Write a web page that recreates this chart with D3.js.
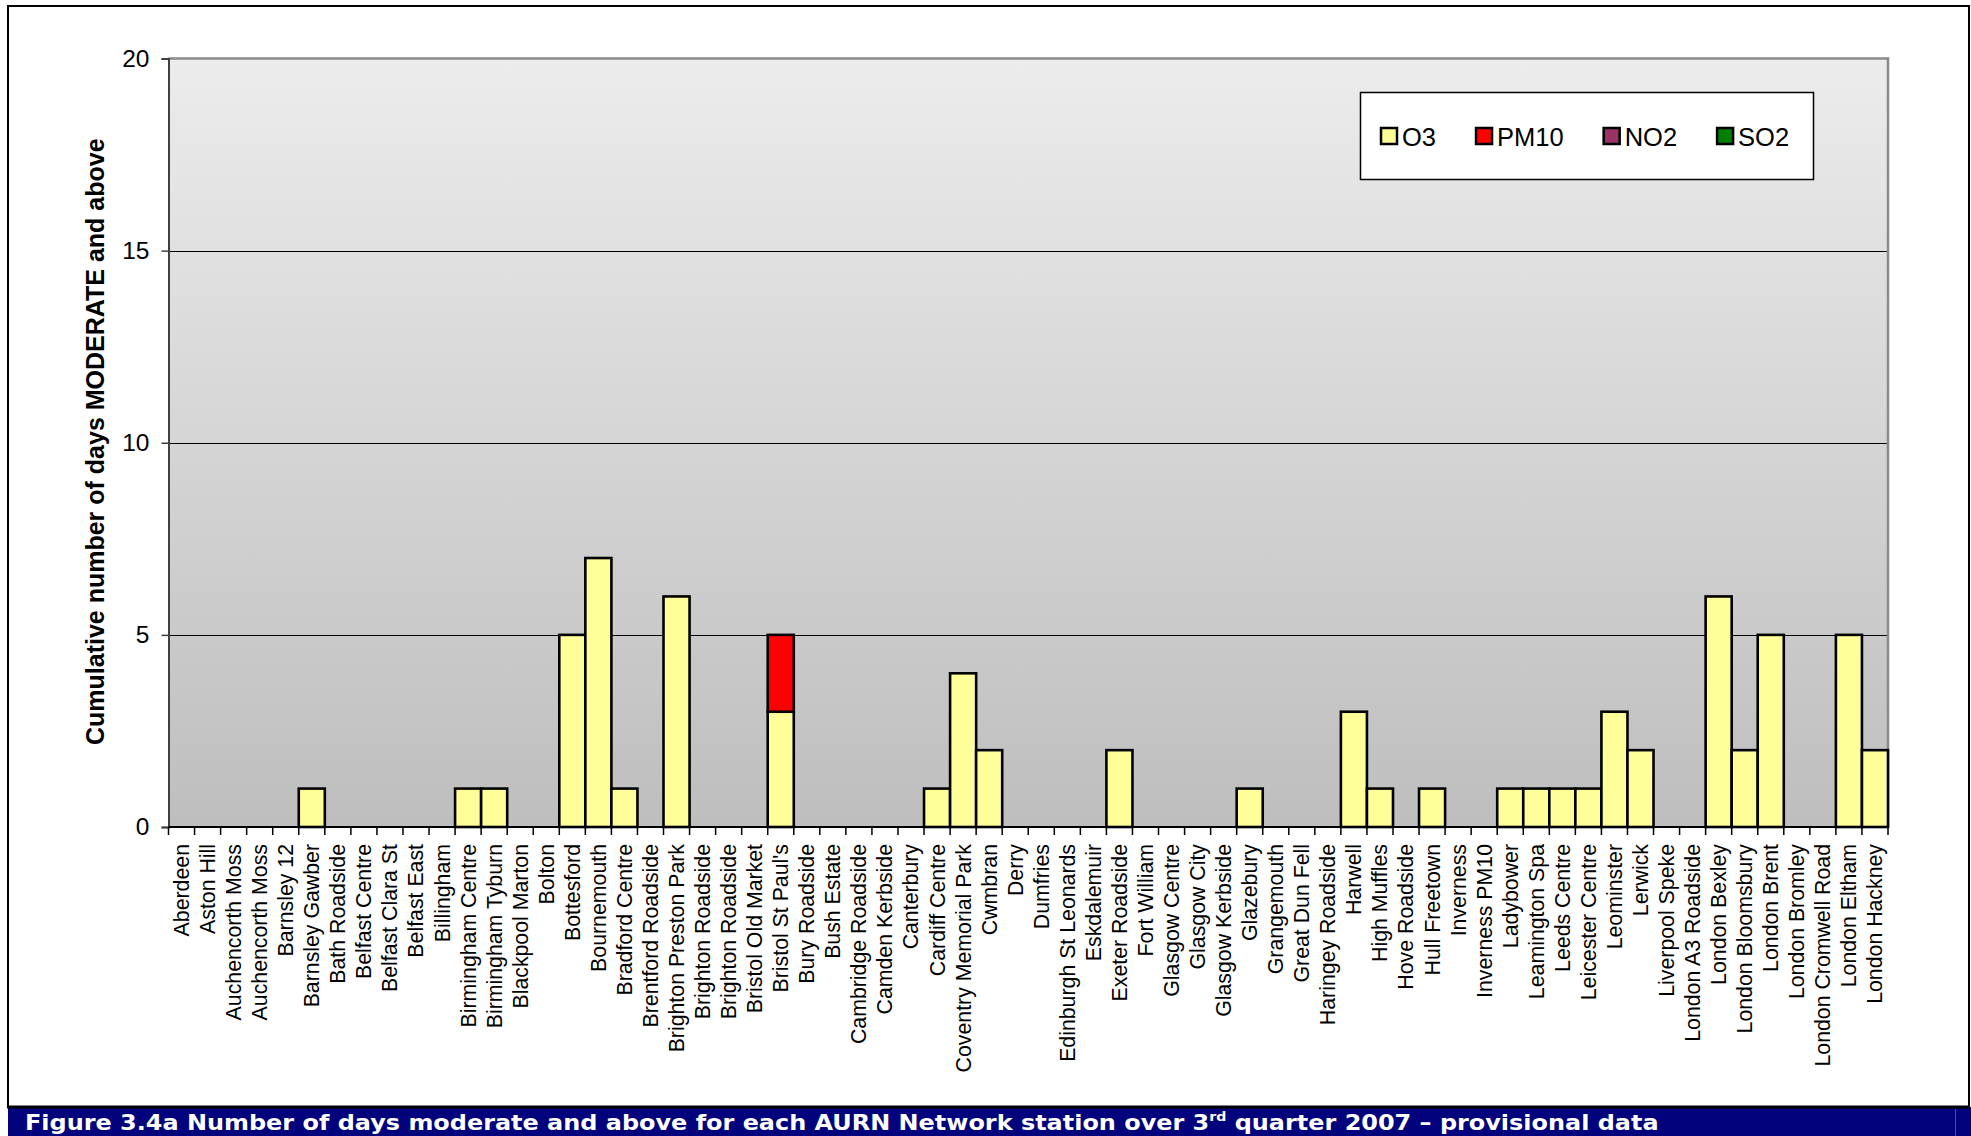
<!DOCTYPE html>
<html>
<head>
<meta charset="utf-8">
<script src="https://cdn.jsdelivr.net/npm/d3@7"></script>
<style>
  html, body { margin: 0; padding: 0; background: #ffffff; }
  svg { display: block; }
</style>
</head>
<body>
<svg id="chart" width="1971" height="1136"></svg>
<script>
// AURN stations, in alphabetical order as reported
const stations = [
  "Aberdeen", "Aston Hill", "Auchencorth Moss", "Auchencorth Moss", "Barnsley 12",
  "Barnsley Gawber", "Bath Roadside", "Belfast Centre", "Belfast Clara St", "Belfast East",
  "Billingham", "Birmingham Centre", "Birmingham Tyburn", "Blackpool Marton", "Bolton",
  "Bottesford", "Bournemouth", "Bradford Centre", "Brentford Roadside", "Brighton Preston Park",
  "Brighton Roadside", "Brighton Roadside", "Bristol Old Market", "Bristol St Paul's", "Bury Roadside",
  "Bush Estate", "Cambridge Roadside", "Camden Kerbside", "Canterbury", "Cardiff Centre",
  "Coventry Memorial Park", "Cwmbran", "Derry", "Dumfries", "Edinburgh St Leonards",
  "Eskdalemuir", "Exeter Roadside", "Fort William", "Glasgow Centre", "Glasgow City",
  "Glasgow Kerbside", "Glazebury", "Grangemouth", "Great Dun Fell", "Haringey Roadside",
  "Harwell", "High Muffles", "Hove Roadside", "Hull Freetown", "Inverness",
  "Inverness PM10", "Ladybower", "Leamington Spa", "Leeds Centre", "Leicester Centre",
  "Leominster", "Lerwick", "Liverpool Speke", "London A3 Roadside", "London Bexley",
  "London Bloomsbury", "London Brent", "London Bromley", "London Cromwell Road", "London Eltham",
  "London Hackney"
];

// Days moderate and above, per pollutant
const o3 = [
  0, 0, 0, 0, 0,  1, 0, 0, 0, 0,
  0, 1, 1, 0, 0,  5, 7, 1, 0, 6,
  0, 0, 0, 3, 0,  0, 0, 0, 0, 1,
  4, 2, 0, 0, 0,  0, 2, 0, 0, 0,
  0, 1, 0, 0, 0,  3, 1, 0, 1, 0,
  0, 1, 1, 1, 1,  3, 2, 0, 0, 6,
  2, 5, 0, 0, 5,  2
];
const pm10 = [
  0, 0, 0, 0, 0,  0, 0, 0, 0, 0,
  0, 0, 0, 0, 0,  0, 0, 0, 0, 0,
  0, 0, 0, 2, 0,  0, 0, 0, 0, 0,
  0, 0, 0, 0, 0,  0, 0, 0, 0, 0,
  0, 0, 0, 0, 0,  0, 0, 0, 0, 0,
  0, 0, 0, 0, 0,  0, 0, 0, 0, 0,
  0, 0, 0, 0, 0,  0
];
const no2 = stations.map(() => 0);
const so2 = stations.map(() => 0);

const pollutants = ["O3", "PM10", "NO2", "SO2"];
const colours = ["#ffff99", "#ff0000", "#993366", "#008000"];
const yTicks = [0, 5, 10, 15, 20];

const caption = "Figure 3.4a Number of days moderate and above for each AURN Network station over 3";
const captionSup = "rd";
const captionEnd = " quarter 2007 \u2013 provisional data";

// ---- layout ----
const svg = d3.select("#chart");
const plot = { left: 168.5, right: 1888, top: 58.5, bottom: 827 };

const rows = stations.map((s, i) => ({ i, O3: o3[i], PM10: pm10[i], NO2: no2[i], SO2: so2[i] }));

const x = d3.scaleBand()
  .domain(d3.range(stations.length))
  .range([plot.left, plot.right])
  .padding(0);

const y = d3.scaleLinear()
  .domain([0, 20])
  .range([plot.bottom, plot.top]);

const colour = d3.scaleOrdinal().domain(pollutants).range(colours);

// outer frame
svg.append("rect")
  .attr("x", 8).attr("y", 6)
  .attr("width", 1961).attr("height", 1101)
  .attr("fill", "#ffffff")
  .attr("stroke", "#000000").attr("stroke-width", 2);

// caption band
svg.append("rect")
  .attr("x", 8).attr("y", 1107)
  .attr("width", 1963).attr("height", 29)
  .attr("fill", "#02037c");
svg.append("line")
  .attr("x1", 7).attr("x2", 1970).attr("y1", 1107).attr("y2", 1107)
  .attr("stroke", "#000000").attr("stroke-width", 3);
svg.append("line")
  .attr("x1", 1955.5).attr("x2", 1955.5).attr("y1", 1109).attr("y2", 1136)
  .attr("stroke", "#4a4ba8").attr("stroke-width", 1);

const cap = svg.append("text")
  .attr("x", 0).attr("y", 0)
  .attr("font-family", "DejaVu Sans, Verdana, sans-serif")
  .attr("font-weight", "bold")
  .attr("font-size", 22)
  .attr("fill", "#ffffff");
cap.append("tspan").text(caption);
cap.append("tspan").attr("font-size", 13).attr("dy", -9).text(captionSup);
cap.append("tspan").attr("dy", 9).text(captionEnd);
// stretch caption to the band's text width
const capW = cap.node().getBBox().width;
cap.attr("transform", `translate(25,1130) scale(${1634 / capW},1)`);

// plot background gradient
const defs = svg.append("defs");
const grad = defs.append("linearGradient")
  .attr("id", "plotBg").attr("x1", 0).attr("y1", 0).attr("x2", 0).attr("y2", 1);
grad.append("stop").attr("offset", "0%").attr("stop-color", "#ececec");
grad.append("stop").attr("offset", "100%").attr("stop-color", "#bebebe");

svg.append("rect")
  .attr("x", plot.left).attr("y", plot.top)
  .attr("width", plot.right - plot.left).attr("height", plot.bottom - plot.top)
  .attr("fill", "url(#plotBg)");

// gridlines
svg.append("g")
  .selectAll("line")
  .data(yTicks.filter(t => t > 0 && t < 20))
  .join("line")
  .attr("x1", plot.left).attr("x2", plot.right)
  .attr("y1", d => Math.round(y(d)) + 0.5).attr("y2", d => Math.round(y(d)) + 0.5)
  .attr("stroke", "#000000").attr("stroke-width", 1);

// plot area border (top and right)
svg.append("path")
  .attr("d", `M${plot.left},${plot.top}H${plot.right}V${plot.bottom}`)
  .attr("fill", "none")
  .attr("stroke", "#8a8a8a").attr("stroke-width", 2.5);

// stacked bars
const stacked = d3.stack().keys(pollutants)(rows);
svg.append("g")
  .selectAll("g")
  .data(stacked)
  .join("g")
  .attr("fill", d => colour(d.key))
  .selectAll("rect")
  .data(d => d.filter(s => s[1] - s[0] > 0))
  .join("rect")
  .attr("x", d => x(d.data.i))
  .attr("width", x.bandwidth())
  .attr("y", d => y(d[1]))
  .attr("height", d => y(d[0]) - y(d[1]))
  .attr("stroke", "#000000")
  .attr("stroke-width", 2.6);

// y axis
const yAxis = svg.append("g")
  .attr("transform", `translate(${plot.left},0)`)
  .call(d3.axisLeft(y).tickValues(yTicks).tickSize(7).tickPadding(12));
yAxis.select(".domain").attr("stroke", "#404040").attr("stroke-width", 2);
yAxis.selectAll(".tick line").attr("stroke", "#404040").attr("stroke-width", 1.5);
yAxis.selectAll(".tick text")
  .attr("font-family", "Liberation Sans, Arial, sans-serif")
  .attr("font-size", 24.5)
  .attr("fill", "#000000");

// x axis: baseline, boundary ticks, rotated station names
const xg = svg.append("g");
xg.append("line")
  .attr("x1", plot.left).attr("x2", plot.right)
  .attr("y1", plot.bottom).attr("y2", plot.bottom)
  .attr("stroke", "#000000").attr("stroke-width", 2);
const bounds = d3.range(stations.length).map(i => x(i)).concat([x(stations.length - 1) + x.bandwidth()]);
xg.selectAll("line.tick")
  .data(bounds)
  .join("line")
  .attr("class", "tick")
  .attr("x1", d => d).attr("x2", d => d)
  .attr("y1", plot.bottom).attr("y2", plot.bottom + 8)
  .attr("stroke", "#000000").attr("stroke-width", 1.5);
xg.selectAll("text")
  .data(stations)
  .join("text")
  .attr("transform", (d, i) => `translate(${x(i) + x.bandwidth() / 2},844) rotate(-90)`)
  .attr("dy", "0.35em")
  .attr("text-anchor", "end")
  .attr("font-family", "Liberation Sans, Arial, sans-serif")
  .attr("font-size", 21.3)
  .attr("fill", "#000000")
  .text(d => d);

// y axis title
svg.append("text")
  .attr("transform", `translate(104,${(plot.top + plot.bottom) / 2 - 1}) rotate(-90)`)
  .attr("text-anchor", "middle")
  .attr("font-family", "Liberation Sans, Arial, sans-serif")
  .attr("font-weight", "bold")
  .attr("font-size", 25)
  .attr("fill", "#000000")
  .text("Cumulative number of days MODERATE and above");

// legend
const legend = svg.append("g");
legend.append("rect")
  .attr("x", 1360.5).attr("y", 92.5)
  .attr("width", 453).attr("height", 87)
  .attr("fill", "#ffffff")
  .attr("stroke", "#000000").attr("stroke-width", 1.5);
let lx = 1381;
pollutants.forEach((p, k) => {
  const item = legend.append("g").attr("transform", `translate(${lx},0)`);
  item.append("rect")
    .attr("x", 0).attr("y", 128)
    .attr("width", 16).attr("height", 16)
    .attr("fill", colours[k])
    .attr("stroke", "#000000").attr("stroke-width", 2.5);
  const t = item.append("text")
    .attr("x", 21).attr("y", 146)
    .attr("font-family", "Liberation Sans, Arial, sans-serif")
    .attr("font-size", 25.5)
    .attr("fill", "#000000")
    .text(p);
  lx += 21 + t.node().getComputedTextLength() + 40;
});
</script>
</body>
</html>
